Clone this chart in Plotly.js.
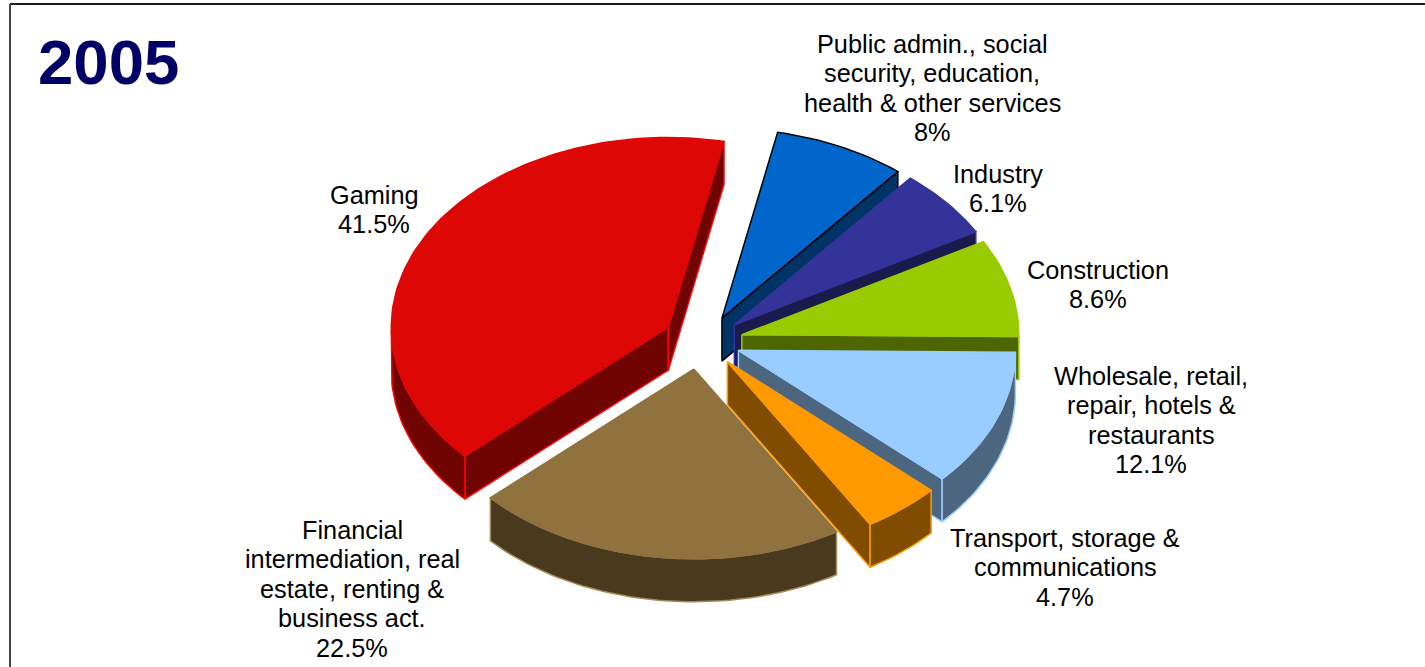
<!DOCTYPE html>
<html>
<head>
<meta charset="utf-8">
<script src="https://cdn.plot.ly/plotly-3.0.1.min.js"></script>
<style>
html, body { margin: 0; padding: 0; background: #fff; overflow: hidden; }
#chart { width: 1425px; height: 667px; }
</style>
</head>
<body>
<div id="chart"></div>
<script>
// Share of output by sector, 2005, clockwise from the gaming slice
const sectors = ["Gaming", "Public admin", "Industry", "Construction", "Wholesale", "Transport", "Financial"];
const shares = [41.5, 8, 6.1, 8.6, 12.1, 4.7, 22.5];
const shareLabels = ["41.5%", "8%", "6.1%", "8.6%", "12.1%", "4.7%", "22.5%"];
const labelLines = [
  ["Gaming"],
  ["Public admin., social", "security, education,", "health & other services"],
  ["Industry"],
  ["Construction"],
  ["Wholesale, retail,", "repair, hotels &", "restaurants"],
  ["Transport, storage &", "communications"],
  ["Financial", "intermediation, real", "estate, renting &", "business act."]
];

// Slice styling
const faceColors = ["#DD0806", "#0066CC", "#333399", "#99CC00", "#99CCFF", "#FF9900", "#8F723E"];
const sideColors = ["#6F0403", "#003366", "#1A1A4D", "#4D6600", "#4D6680", "#804D00", "#48391F"];
const edgeColors = ["#FF0000", "#000000", "#333399", "#99CC00", "#99CCFF", "#FF9900", "#A88A55"];

// Label anchors: centre x and centre y of the first line
const labelX = [374, 932, 998, 1098, 1151, 1065, 352];
const labelY = [195, 44, 174, 270, 376, 538, 530];
const lineStep = 29.4;

// Projection of the tilted pie onto the drawing plane (axes run in pixel units)
const centerX = 706, centerY = 341, radius = 277, tilt = 0.685, depth = 43, pull = 37;
const startDeg = 78.4;
// How far each slice is pulled out, and a small shift of its apex
const pulls = [41, pull, pull, pull, pull, pull, pull];
const apexShiftX = [-2, 0, 0, 0, -2, -2, -7];
const apexShiftY = [0, 0, 0, 0, 0, 1, 3];

const total = shares.reduce((a, b) => a + b, 0);
const rad = d => d * Math.PI / 180;
const traces = [];

function addPolygon(xs, ys, fill, edge) {
  traces.push({
    type: "scatter", mode: "lines", x: xs, y: ys, fill: "toself", fillcolor: fill,
    line: { color: edge, width: 1.5 }, hoverinfo: "skip", showlegend: false
  });
}

// Point on the pie rim at a given angle, relative to a slice apex
const rimX = (ax, deg) => ax + radius * Math.cos(rad(deg));
const rimY = (ay, deg) => ay - radius * tilt * Math.sin(rad(deg));

function arcAngles(from, to) {
  const out = [];
  const n = Math.max(2, Math.ceil(Math.abs(from - to) / 1.5));
  for (let i = 0; i <= n; i++) out.push(from + (to - from) * i / n);
  return out;
}

function drawSlice(i, a0, a1) {
  // a0 > a1: the slice runs clockwise from a0 to a1
  const mid = (a0 + a1) / 2;
  const ax = centerX + pulls[i] * Math.cos(rad(mid)) + apexShiftX[i];
  const ay = centerY - pulls[i] * tilt * Math.sin(rad(mid)) + apexShiftY[i];

  // Cut walls whose outward normal points at the viewer
  [[a0, a0 + 90], [a1, a1 - 90]].forEach(([edgeDeg, normalDeg]) => {
    if (Math.sin(rad(normalDeg)) < 0) {
      const tx = rimX(ax, edgeDeg), ty = rimY(ay, edgeDeg);
      addPolygon([ax, tx, tx, ax, ax], [ay, ty, ty + depth, ay + depth, ay], sideColors[i], edgeColors[i]);
    }
  });

  // Outer rim where it faces the viewer (lower half of the ellipse)
  const front = arcAngles(a0, a1).filter(d => Math.sin(rad(d)) <= 0);
  if (front.length > 1) {
    const top = front.map(d => [rimX(ax, d), rimY(ay, d)]);
    const bottom = front.slice().reverse().map(d => [rimX(ax, d), rimY(ay, d) + depth]);
    const ring = top.concat(bottom);
    ring.push(ring[0]);
    addPolygon(ring.map(q => q[0]), ring.map(q => q[1]), sideColors[i], edgeColors[i]);
  }

  // Top face
  const arc = arcAngles(a0, a1);
  const xs = [ax].concat(arc.map(d => rimX(ax, d)), [ax]);
  const ys = [ay].concat(arc.map(d => rimY(ay, d)), [ay]);
  addPolygon(xs, ys, faceColors[i], i === 1 ? "#000000" : faceColors[i]);
}

let angle = startDeg;
const spans = shares.map(v => v / total * 360);
// Gaming runs anticlockwise back from the start angle; the rest run clockwise from it
drawSlice(0, startDeg + spans[0], startDeg);
for (let i = 1; i < sectors.length; i++) {
  drawSlice(i, angle, angle - spans[i]);
  angle -= spans[i];
}

// Labels, one annotation per line so the leading stays tight
const annotations = [];
labelLines.forEach((lines, i) => {
  lines.concat([shareLabels[i]]).forEach((text, j) => {
    annotations.push({
      x: labelX[i], y: labelY[i] + j * lineStep, xref: "x", yref: "y", text: text,
      showarrow: false, xanchor: "center", yanchor: "middle",
      font: { family: "Liberation Sans, Arial, sans-serif", size: 25.3, color: "#000000" }
    });
  });
});
annotations.push({
  x: 108, y: 62, xref: "x", yref: "y", text: "<b>2005</b>", showarrow: false,
  xanchor: "center", yanchor: "middle",
  font: { family: "Liberation Sans, Arial, sans-serif", size: 63.5, color: "#000066" }
});

const layout = {
  width: 1425, height: 667,
  margin: { l: 0, r: 0, t: 0, b: 0 },
  paper_bgcolor: "#ffffff", plot_bgcolor: "#ffffff",
  xaxis: { range: [0, 1425], visible: false, fixedrange: true },
  yaxis: { range: [667, 0], visible: false, fixedrange: true },
  showlegend: false,
  annotations: annotations,
  shapes: [
    { type: "line", xref: "x", yref: "y", x0: 10, x1: 1425, y0: 4, y1: 4, line: { color: "#1a1a1a", width: 2 } },
    { type: "line", xref: "x", yref: "y", x0: 10, x1: 10, y0: 4, y1: 667, line: { color: "#444444", width: 2 } }
  ]
};

Plotly.newPlot("chart", traces, layout, { displayModeBar: false, staticPlot: true });
</script>
</body>
</html>
